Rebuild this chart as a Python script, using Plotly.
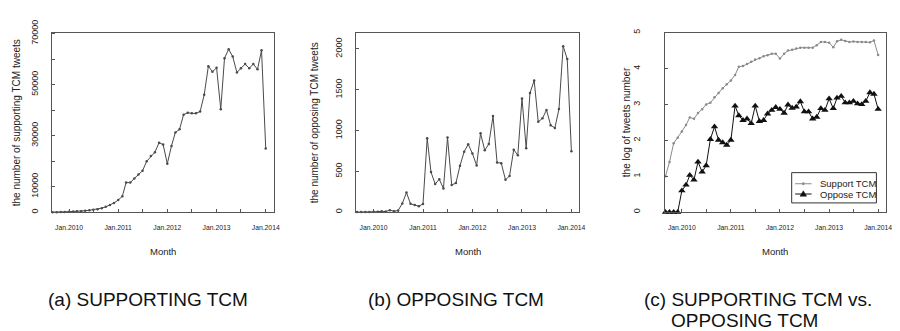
import pandas as pd
import plotly.graph_objects as go

# ---------------- data ----------------
months = pd.date_range("2009-09-01", periods=53, freq="MS")

support_counts = [
    10, 25, 83, 117,
    178, 270, 420, 380, 575, 740, 1000, 1120, 1585, 2090, 2820, 3630,
    4750, 6250, 11600, 11600, 13250, 14750, 16250, 20000, 22000, 23500, 27250, 26500,
    19000, 26000, 31250, 32500, 38250, 39000, 38750, 38750, 39500, 46000, 57250, 55100,
    56600, 40400, 60400, 63900, 61000, 54750, 56400, 58100, 56400, 58100, 56000, 63500,
    25000,
]

oppose_counts = [
    1, 1, 1, 1,
    4, 6, 11, 8, 25, 13, 20, 107, 240, 102, 87, 74,
    100, 907, 491, 345, 404, 290, 915, 334, 357, 569, 742, 832,
    718, 573, 966, 758, 836, 1178, 608, 600, 397, 444, 766, 699,
    1394, 785, 1460, 1614, 1107, 1150, 1252, 1064, 1033, 1264, 2034, 1877,
    746,
]

support_log = [
    1.00, 1.40, 1.92, 2.07,
    2.25, 2.43, 2.64, 2.60, 2.76, 2.87, 3.00, 3.05, 3.20, 3.32, 3.45, 3.56,
    3.67, 3.82, 4.05, 4.07, 4.13, 4.19, 4.25, 4.29, 4.34, 4.37, 4.41, 4.41,
    4.28, 4.41, 4.50, 4.52, 4.56, 4.58, 4.58, 4.58, 4.58, 4.65, 4.74, 4.74,
    4.72, 4.59, 4.76, 4.80, 4.77, 4.74, 4.75, 4.74, 4.74, 4.74, 4.73, 4.78,
    4.38,
]

oppose_log = [
    0.0, 0.0, 0.0, 0.0,
    0.60, 0.76, 1.03, 0.90, 1.40, 1.12, 1.30, 2.03, 2.38, 2.01, 1.94, 1.87,
    2.01, 2.96, 2.69, 2.56, 2.60, 2.47, 2.96, 2.53, 2.56, 2.74, 2.84, 2.92,
    2.87, 2.76, 2.99, 2.90, 2.93, 3.08, 2.80, 2.80, 2.60, 2.65, 2.89, 2.84,
    3.16, 2.89, 3.18, 3.23, 3.05, 3.05, 3.09, 3.02, 3.00, 3.09, 3.33, 3.29,
    2.87,
]

x_tick_dates = ["2010-01-01", "2010-07-01", "2011-01-01", "2011-07-01", "2012-01-01",
                "2012-07-01", "2013-01-01", "2013-07-01", "2014-01-01"]
x_tick_text = ["Jan.2010", "", "Jan.2011", "", "Jan.2012", "", "Jan.2013", "", "Jan.2014"]

y1_ticks = [0, 10000, 20000, 30000, 40000, 50000, 60000, 70000]
y1_text = ["0", "10000", "", "30000", "", "50000", "", "70000"]
y2_ticks = [0, 500, 1000, 1500, 2000]
y2_text = ["0", "500", "1000", "1500", "2000"]
y3_ticks = [0, 1, 2, 3, 4, 5]
y3_text = ["0", "1", "2", "3", "4", "5"]

y_titles = ["the number of supporting TCM tweets", "the number of opposing TCM tweets",
            "the log of tweets number"]
captions = ["(a) SUPPORTING TCM", "(b) OPPOSING TCM"]
caption_c = ["(c) SUPPORTING TCM vs.", "OPPOSING TCM"]
legend_names = ["Support TCM", "Oppose TCM"]

# ---------------- layout constants ----------------
W, H = 900, 331
FONT = "Liberation Sans, Arial, sans-serif"
NARROW = "Liberation Sans Narrow, Arial Narrow, Liberation Sans, Arial, sans-serif"
TXT = "#222222"
LINE = "#4a4a4a"
FRAME = "#555555"
SUP_C = "#8a8a8a"
OPP_C = "#111111"

boxes = [(52, 275.5), (358.5, 583.3), (669, 892)]
box_top, box_bot = 20.5, 208

def px(x):
    return x / W

def py(y):
    return 1 - y / H

fig = go.Figure()

# panel 1
fig.add_trace(go.Scatter(x=months, y=support_counts, mode="lines+markers", name="Supporting",
                         line=dict(color=LINE, width=1), marker=dict(size=2.5, color=LINE),
                         xaxis="x", yaxis="y", showlegend=False, cliponaxis=False))
# panel 2
fig.add_trace(go.Scatter(x=months, y=oppose_counts, mode="lines+markers", name="Opposing",
                         line=dict(color=LINE, width=1), marker=dict(size=2.5, color=LINE),
                         xaxis="x2", yaxis="y2", showlegend=False, cliponaxis=False))
# panel 3
fig.add_trace(go.Scatter(x=months, y=support_log, mode="lines+markers", name=legend_names[0],
                         line=dict(color=SUP_C, width=1), marker=dict(size=2.5, color=SUP_C),
                         xaxis="x3", yaxis="y3", showlegend=False, cliponaxis=False))
fig.add_trace(go.Scatter(x=months, y=oppose_log, mode="lines+markers", name=legend_names[1],
                         line=dict(color=OPP_C, width=1),
                         marker=dict(symbol="triangle-up", size=6.5, color=OPP_C),
                         xaxis="x3", yaxis="y3", showlegend=False, cliponaxis=False))

x_range = ["2009-08-25", "2014-03-01"]
common_x = dict(range=x_range, tickmode="array", tickvals=x_tick_dates, ticktext=x_tick_text,
                ticks="inside", ticklen=3, tickcolor=FRAME, tickwidth=1,
                showline=True, linecolor=FRAME, linewidth=1, mirror=True,
                showgrid=False, zeroline=False, tickangle=0,
                tickfont=dict(family=FONT, size=6.8, color=TXT), ticklabelstandoff=9)
common_y = dict(ticks="inside", ticklen=3, tickcolor=FRAME, tickwidth=1,
                showline=True, linecolor=FRAME, linewidth=1, mirror=True,
                showgrid=False, zeroline=False, tickangle=-90,
                tickfont=dict(family=NARROW, size=9, color=TXT))

dom_y = [py(box_bot), py(box_top)]
layout = dict(
    width=W, height=H, margin=dict(l=0, r=0, t=0, b=0),
    paper_bgcolor="white", plot_bgcolor="white",
    xaxis=dict(domain=[px(boxes[0][0]), px(boxes[0][1])], anchor="y", **common_x),
    xaxis2=dict(domain=[px(boxes[1][0]), px(boxes[1][1])], anchor="y2", **common_x),
    xaxis3=dict(domain=[px(boxes[2][0]), px(boxes[2][1])], anchor="y3", **common_x),
    yaxis=dict(domain=dom_y, anchor="x", range=[0, 70400], tickmode="array",
               tickvals=y1_ticks, ticktext=y1_text, ticklabelstandoff=9, **common_y),
    yaxis2=dict(domain=dom_y, anchor="x2", range=[0, 2200], tickmode="array",
                tickvals=y2_ticks, ticktext=y2_text, ticklabelstandoff=10, **common_y),
    yaxis3=dict(domain=dom_y, anchor="x3", range=[0, 5.0], tickmode="array",
                tickvals=y3_ticks, ticktext=y3_text, ticklabelstandoff=20, **common_y),
    showlegend=False,
)
fig.update_layout(**layout)

annotations = []
title_x = [17, 317, 631]
for i, (l, r) in enumerate(boxes):
    annotations.append(dict(text="Month", x=px((l + r) / 2), y=py(249), xref="paper", yref="paper",
                            xanchor="center", yanchor="middle", showarrow=False,
                            font=dict(family=FONT, size=9.5, color=TXT)))
    annotations.append(dict(text=y_titles[i], x=px(title_x[i]), y=py((box_top + box_bot) / 2),
                            xref="paper", yref="paper", xanchor="center", yanchor="middle",
                            textangle=-90, showarrow=False,
                            font=dict(family=FONT, size=10, color=TXT)))

cap_centers = [148.8, 459]
for c, t in zip(cap_centers, captions):
    annotations.append(dict(text=t, x=px(c), y=py(299), xref="paper", yref="paper",
                            xanchor="center", yanchor="middle", showarrow=False,
                            font=dict(family=FONT, size=19, color="#111111")))
annotations.append(dict(text=caption_c[0], x=px(646.7), y=py(299), xref="paper", yref="paper",
                        xanchor="left", yanchor="middle", showarrow=False,
                        font=dict(family=FONT, size=19, color="#111111")))
annotations.append(dict(text=caption_c[1], x=px(673.5), y=py(321), xref="paper", yref="paper",
                        xanchor="left", yanchor="middle", showarrow=False,
                        font=dict(family=FONT, size=19, color="#111111")))

# ---- legend box for panel (c) ----
lg_l, lg_r, lg_t, lg_b = 797, 882.3, 166.7, 198.3
row_y = [178.3, 189.0]
sym_l, sym_r, sym_c, text_x = 800.5, 817, 808.7, 823.5
shapes = [dict(type="rect", xref="paper", yref="paper", x0=px(lg_l), x1=px(lg_r),
               y0=py(lg_b), y1=py(lg_t), line=dict(color="#333333", width=1),
               fillcolor="white", layer="above")]
shapes.append(dict(type="line", xref="paper", yref="paper", x0=px(sym_l), x1=px(sym_r),
                   y0=py(row_y[0]), y1=py(row_y[0]), line=dict(color=SUP_C, width=1), layer="above"))
shapes.append(dict(type="circle", xref="paper", yref="paper", x0=px(sym_c - 1.2), x1=px(sym_c + 1.2),
                   y0=py(row_y[0] + 1.2), y1=py(row_y[0] - 1.2), line=dict(color=SUP_C, width=0.5),
                   fillcolor=SUP_C, layer="above"))
shapes.append(dict(type="line", xref="paper", yref="paper", x0=px(sym_l), x1=px(sym_r),
                   y0=py(row_y[1]), y1=py(row_y[1]), line=dict(color=OPP_C, width=1), layer="above"))
tri = "M {},{} L {},{} L {},{} Z".format(px(sym_c), py(row_y[1] - 3.4),
                                         px(sym_c - 3.3), py(row_y[1] + 2.3),
                                         px(sym_c + 3.3), py(row_y[1] + 2.3))
shapes.append(dict(type="path", xref="paper", yref="paper", path=tri,
                   line=dict(color=OPP_C, width=0.5), fillcolor=OPP_C, layer="above"))
for yy, name in zip(row_y, legend_names):
    annotations.append(dict(text=name, x=px(text_x), y=py(yy), xref="paper", yref="paper",
                            xanchor="left", yanchor="middle", showarrow=False,
                            font=dict(family=FONT, size=9.5, color=TXT)))

fig.update_layout(annotations=annotations, shapes=shapes)

fig.write_html("out.html")
